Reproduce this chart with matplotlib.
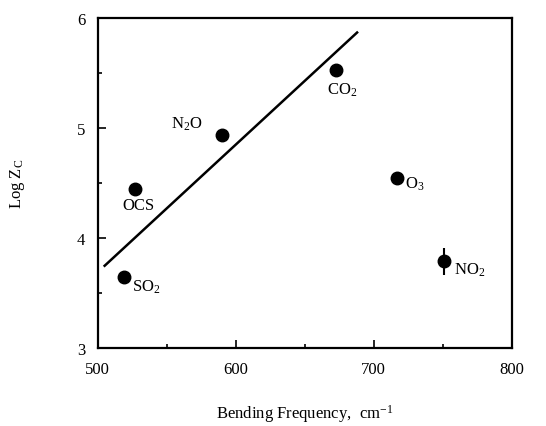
import numpy as np
import matplotlib
matplotlib.use('Agg')
import matplotlib.pyplot as plt
from matplotlib.ticker import MultipleLocator

plt.rcParams['font.family'] = ['Liberation Serif', 'DejaVu Serif']
plt.rcParams['mathtext.fontset'] = 'custom'
plt.rcParams['mathtext.rm'] = 'Liberation Serif'
plt.rcParams['mathtext.it'] = 'Liberation Serif'

# data
molecules = ['SO$_2$', 'OCS', 'N$_2$O', 'CO$_2$', 'O$_3$', 'NO$_2$']
bend_freq = [519, 527, 590, 673, 717, 751]
log_zc = [3.65, 4.45, 4.94, 5.53, 4.55, 3.79]
log_zc_err = [0, 0, 0, 0, 0, 0.12]

fit_x = [505, 688]
fit_y = [3.75, 5.87]

# label offsets in points (dx, dy)
label_offsets = [(6, -7), (-9, -12), (-37, 8), (-7, -14), (6, -4), (7, -6)]

fig = plt.figure(figsize=(5.46, 4.27), dpi=100)
ax = fig.add_axes([0.179, 0.182, 0.758, 0.773])

ax.plot(fit_x, fit_y, color='black', lw=1.8)
ax.errorbar(bend_freq, log_zc, yerr=log_zc_err, fmt='o', color='black',
            ms=9, elinewidth=1.5, capsize=0)

for name, x, y, (dx, dy) in zip(molecules, bend_freq, log_zc, label_offsets):
    ax.annotate(name, (x, y), xytext=(dx, dy), textcoords='offset points',
                fontsize=12, ha='left', va='center')

ax.set_xlim(500, 800)
ax.set_ylim(3, 6)
ax.xaxis.set_major_locator(MultipleLocator(100))
ax.xaxis.set_minor_locator(MultipleLocator(50))
ax.yaxis.set_major_locator(MultipleLocator(1))
ax.yaxis.set_minor_locator(MultipleLocator(0.5))
ax.tick_params(which='both', direction='in', labelsize=12, width=1.2)
ax.tick_params(which='major', length=6, pad=9)
ax.tick_params(which='minor', length=3)
for s in ax.spines.values():
    s.set_linewidth(1.6)

ax.set_xlabel('Bending Frequency,  cm$^{-1}$', fontsize=12, labelpad=18)
ax.set_ylabel('Log Z$_C$', fontsize=12, labelpad=36)

fig.savefig('out.png', dpi=100)
